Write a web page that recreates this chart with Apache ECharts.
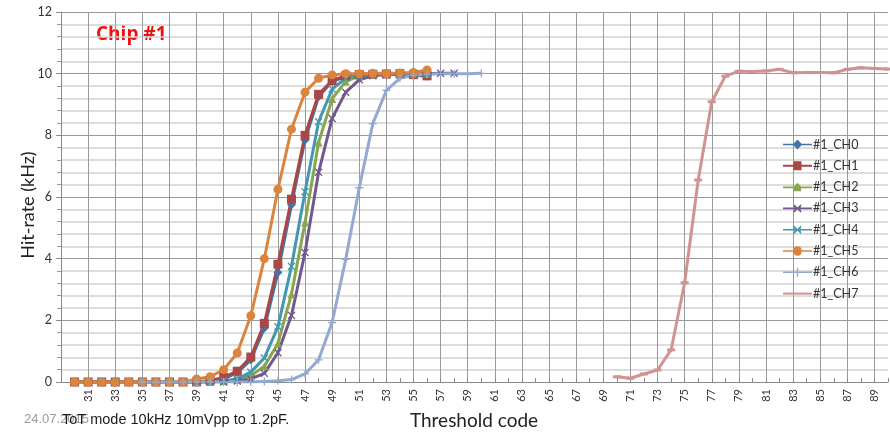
<!DOCTYPE html>
<html>
<head>
<meta charset="utf-8">
<script src="https://cdn.jsdelivr.net/npm/echarts@6/dist/echarts.min.js"></script>
<style>
  html, body { margin: 0; padding: 0; background: #ffffff; }
  #chart { width: 890px; height: 432px; }
</style>
</head>
<body>
<div id="chart"></div>
<script>
// Threshold codes along the x axis (category axis, 29 .. 90)
const thresholdCodes = [
  '29','30','31','32','33','34','35','36','37','38','39','40','41','42','43','44',
  '45','46','47','48','49','50','51','52','53','54','55','56','57','58','59','60',
  '61','62','63','64','65','66','67','68','69','70','71','72','73','74','75','76',
  '77','78','79','80','81','82','83','84','85','86','87','88','89','90'
];

// Hit-rate (kHz) per channel; each list starts at the given threshold code
const ch0Start = 30;
const ch0 = [0, 0, 0, 0, 0, 0, 0, 0, 0, 0, 0, 0.1, 0.3, 0.72, 1.75, 3.55, 5.75, 7.85, 9.25, 9.75, 9.9, 9.95, 9.97, 9.98, 9.98, 9.95, 9.92];

const ch1Start = 30;
const ch1 = [0, 0, 0, 0, 0, 0, 0, 0, 0, 0, 0.05, 0.15, 0.35, 0.81, 1.9, 3.82, 5.93, 8.0, 9.33, 9.78, 9.93, 9.97, 9.98, 9.99, 10.0, 9.97, 9.93];

const ch2Start = 30;
const ch2 = [0, 0, 0, 0, 0, 0, 0, 0, 0, 0, 0, 0.03, 0.08, 0.2, 0.51, 1.25, 2.85, 5.17, 7.77, 9.18, 9.75, 9.92, 9.97, 9.99, 10.0, 10.0, 10.0];

const ch3Start = 30;
const ch3 = [0, 0, 0, 0, 0, 0, 0, 0, 0, 0, 0, 0, 0.03, 0.1, 0.28, 0.95, 2.16, 4.2, 6.8, 8.55, 9.4, 9.8, 9.93, 9.97, 9.99, 10.0, 10.0, 10.01, 10.01];

const ch4Start = 30;
const ch4 = [0, 0, 0, 0, 0, 0, 0, 0, 0, 0, 0, 0.03, 0.1, 0.32, 0.78, 1.79, 3.75, 6.17, 8.44, 9.5, 9.85, 9.96, 9.98, 9.99, 10.0, 10.0, 10.0];

const ch5Start = 30;
const ch5 = [0, 0, 0, 0, 0, 0, 0, 0, 0, 0.1, 0.17, 0.4, 0.94, 2.15, 4.0, 6.25, 8.2, 9.4, 9.85, 9.96, 10.0, 10.0, 10.01, 10.01, 10.02, 10.04, 10.12];

const ch6Start = 35;
const ch6 = [0, 0, 0, 0, 0, 0, 0, 0, 0, 0.02, 0.04, 0.08, 0.26, 0.72, 1.93, 3.98, 6.3, 8.38, 9.46, 9.85, 9.95, 9.98, 10.0, 10.0, 10.0, 10.01];

const ch7Start = 70;
const ch7 = [0.17, 0.12, 0.26, 0.39, 1.04, 3.22, 6.55, 9.09, 9.92, 10.08, 10.07, 10.09, 10.14, 10.03, 10.04, 10.04, 10.03, 10.14, 10.19, 10.17, 10.15];

const channelNames = ['#1_CH0', '#1_CH1', '#1_CH2', '#1_CH3', '#1_CH4', '#1_CH5', '#1_CH6', '#1_CH7'];

// y-axis range
const yMin = 0;
const yMax = 12;

// Marker shapes
const symX = 'path://M0,1.2L1.2,0L5,3.8L8.8,0L10,1.2L6.2,5L10,8.8L8.8,10L5,6.2L1.2,10L0,8.8L3.8,5Z';
const symPlus = 'path://M4.2,0H5.8V4.2H10V5.8H5.8V10H4.2V5.8H0V4.2H4.2Z';
const symDash = 'path://M0,0H10V3H0Z';

const channels = [
  { values: ch0, start: ch0Start, color: '#4572A7', symbol: 'diamond', size: 9 },
  { values: ch1, start: ch1Start, color: '#AA4643', symbol: 'rect', size: 9 },
  { values: ch2, start: ch2Start, color: '#89A54E', symbol: 'triangle', size: 8 },
  { values: ch3, start: ch3Start, color: '#71588F', symbol: symX, size: 8 },
  { values: ch4, start: ch4Start, color: '#4198AF', symbol: symX, size: 8 },
  { values: ch5, start: ch5Start, color: '#DB843D', symbol: 'circle', size: 9 },
  { values: ch6, start: ch6Start, color: '#93A9CF', symbol: symPlus, size: 8 },
  { values: ch7, start: ch7Start, color: '#D19392', symbol: symDash, size: [8, 3] }
];

// Legend icons: a line with the series marker drawn across it
const legendIcons = [
  'path://M0,4.2H10.5L14.5,0L18.5,4.2H29V5.8H18.5L14.5,10L10.5,5.8H0Z',
  'path://M0,4H10.5V0.5H18.5V4H29V6H18.5V9.5H10.5V6H0Z',
  'path://M0,4.2H11L14.5,0.5L18,4.2H29V5.8H18V9H11V5.8H0Z',
  'path://M0,4.2H11.5L10.5,1.5L11.5,1L14.5,4.2L17.5,1L18.5,1.5L17.5,4.2H29V5.8H17.5L18.5,8.5L17.5,9L14.5,5.8L11.5,9L10.5,8.5L11.5,5.8H0Z',
  'path://M0,4.2H11.5L10.5,1.5L11.5,1L14.5,4.2L17.5,1L18.5,1.5L17.5,4.2H29V5.8H17.5L18.5,8.5L17.5,9L14.5,5.8L11.5,9L10.5,8.5L11.5,5.8H0Z',
  'path://M0,4.2H10.5A4,4 0 0 1 18.5,4.2H29V5.8H18.5A4,4 0 0 1 10.5,5.8H0Z',
  'path://M0,4.2H13.8V0.5H15.2V4.2H29V5.8H15.2V9.5H13.8V5.8H0Z',
  'path://M0,4H29V6H0Z'
];

const isShownCode = (idx) => idx > 0 && Number(thresholdCodes[idx]) % 2 === 1;

const series = channels.map((ch, i) => ({
  name: channelNames[i],
  type: 'line',
  data: ch.values.map((v, k) => [String(ch.start + k), v]),
  symbol: ch.symbol,
  symbolSize: ch.size,
  showAllSymbol: true,
  lineStyle: { color: ch.color, width: 3 },
  itemStyle: { color: ch.color, borderWidth: 0 },
  emphasis: { disabled: true },
  animation: false
}));

const chart = echarts.init(document.getElementById('chart'), null, { renderer: 'canvas' });

const axisFont = 'Lato, "Open Sans", sans-serif';

chart.setOption({
  backgroundColor: '#ffffff',
  animation: false,
  grid: { left: 61, right: 2, top: 12, bottom: 50, containLabel: false, outerBoundsMode: 'none' },
  legend: {
    orient: 'vertical',
    left: 778,
    top: 133,
    itemWidth: 29,
    itemHeight: 10,
    itemGap: 8.3,
    textStyle: { fontFamily: axisFont, fontSize: 12.5, color: '#333333', padding: [0, 0, 0, -4] },
    data: channelNames.map((n, i) => ({ name: n, icon: legendIcons[i] }))
  },
  xAxis: {
    type: 'category',
    data: thresholdCodes,
    boundaryGap: false,
    axisLine: { lineStyle: { color: '#8a8a8a', width: 1 } },
    axisTick: { show: true, interval: 0, inside: true, length: 4, lineStyle: { color: '#8a8a8a' } },
    axisLabel: {
      interval: (idx) => isShownCode(idx),
      rotate: 90,
      margin: 7,
      fontFamily: axisFont,
      fontSize: 11,
      color: '#333333'
    },
    splitLine: {
      show: true,
      interval: (idx) => isShownCode(idx),
      lineStyle: { color: '#9a9a9a', width: 1 }
    }
  },
  yAxis: {
    type: 'value',
    min: yMin,
    max: yMax,
    interval: 2,
    axisLine: { show: true, lineStyle: { color: '#8a8a8a', width: 1 } },
    axisTick: { show: true, length: 5, lineStyle: { color: '#8a8a8a' } },
    minorTick: { show: true, splitNumber: 5, length: 4, lineStyle: { color: '#9a9a9a' } },
    axisLabel: {
      margin: 9,
      fontFamily: axisFont,
      fontSize: 12.5,
      color: '#333333'
    },
    splitLine: { show: true, lineStyle: { color: '#9a9a9a', width: 1 } },
    minorSplitLine: { show: true, lineStyle: { color: '#d2d2d2', width: 1.5 } }
  },
  graphic: [
    {
      type: 'text', left: 96, top: 25,
      style: { text: 'Chip #1', fill: '#ee1111', stroke: 'none', lineWidth: 0, font: 'bold 19px "Open Sans", sans-serif' }
    },
    {
      // y axis title
      type: 'text', x: 28, y: 205, rotation: Math.PI / 2,
      style: { text: 'Hit-rate (kHz)', fill: '#222222', font: '18px ' + axisFont, align: 'center', verticalAlign: 'middle' }
    },
    {
      // x axis title
      type: 'text', x: 474, y: 421,
      style: { text: 'Threshold code', fill: '#222222', font: '19px ' + axisFont, align: 'center', verticalAlign: 'middle' }
    },
    {
      type: 'text', left: 24, top: 413,
      style: { text: '24.07.2015', fill: '#9a9a9a', font: '13px "Liberation Sans", Arial, sans-serif' }
    },
    {
      type: 'text', left: 62, top: 412,
      style: { text: 'ToT mode 10kHz 10mVpp to 1.2pF.', fill: '#1a1a1a', font: '14.5px "Liberation Sans", Arial, sans-serif' }
    }
  ],
  series: series
});
</script>
</body>
</html>
